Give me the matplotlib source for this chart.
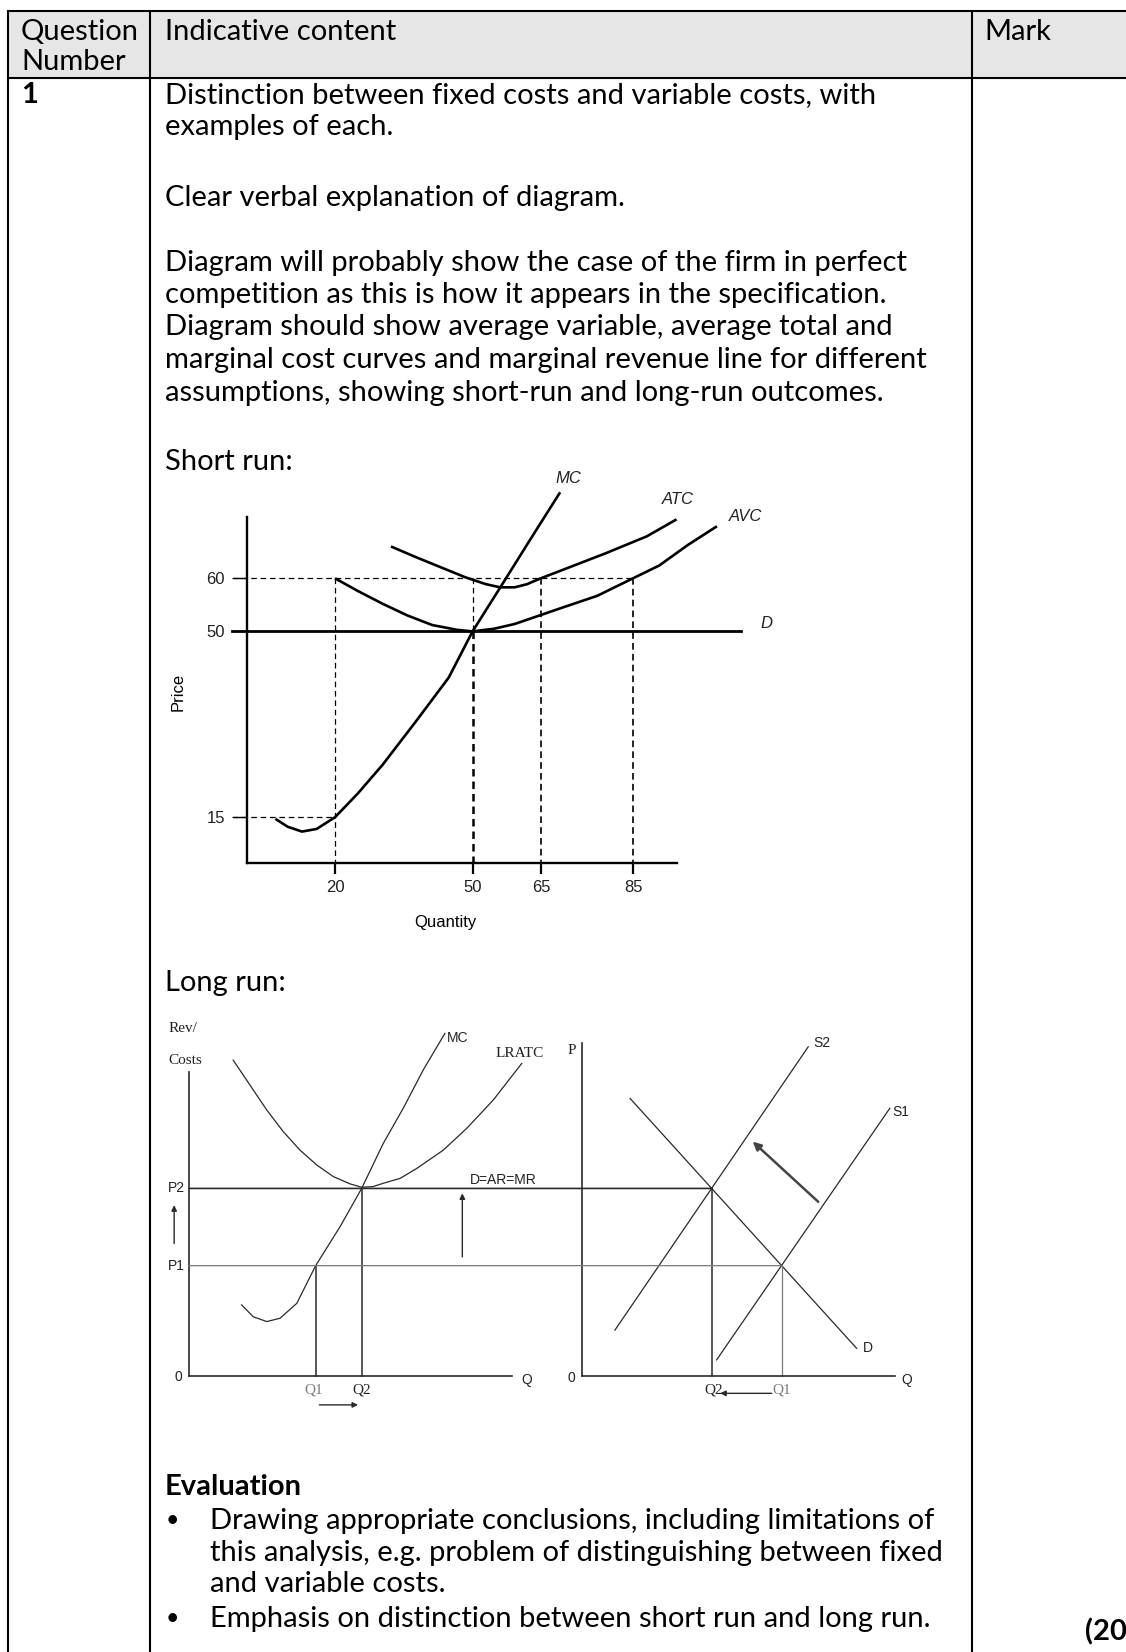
import matplotlib
matplotlib.use("Agg")
import matplotlib.pyplot as plt
from matplotlib.patches import Rectangle, ConnectionPatch

W, H = 1126, 1652

# ---------------- mark scheme text ----------------
header_labels = ["Question", "Number"]
content_header = "Indicative content"
mark_header = "Mark"
question_number = "1"
content_lines = [
    "Distinction between fixed costs and variable costs, with",
    "examples of each.",
    "Clear verbal explanation of diagram.",
    "Diagram will probably show the case of the firm in perfect",
    "competition as this is how it appears in the specification.",
    "Diagram should show average variable, average total and",
    "marginal cost curves and marginal revenue line for different",
    "assumptions, showing short-run and long-run outcomes.",
    "Short run:",
]
long_run_title = "Long run:"
evaluation_title = "Evaluation"
evaluation_lines = [
    "Drawing appropriate conclusions, including limitations of",
    "this analysis, e.g. problem of distinguishing between fixed",
    "and variable costs.",
    "Emphasis on distinction between short run and long run.",
]
evaluation_bullet = [True, False, False, True]
mark_total = "(20)"

# ---------------- short run diagram (price vs quantity) ----------------
sr_mc_q = [7.0, 9.7, 12.8, 16.0, 20.0, 25.0, 30.4, 37.6, 44.8, 50.0, 56.5, 62.8, 69.1]
sr_mc_p = [14.7, 13.2, 12.3, 12.8, 15.0, 19.5, 24.9, 33.0, 41.3, 50.0, 58.9, 67.6, 76.2]
sr_atc_q = [32.2, 37.6, 43.0, 48.4, 52.9, 56.0, 59.2, 61.9, 64.6, 70.0, 79.0, 88.0, 94.5]
sr_atc_p = [66.0, 64.0, 62.1, 60.2, 58.9, 58.3, 58.3, 58.9, 59.9, 61.7, 64.7, 67.9, 71.1]
sr_avc_q = [20.0, 25.0, 30.4, 35.8, 41.2, 46.6, 50.0, 54.7, 59.2, 64.6, 70.0, 77.2, 85.0, 90.7, 97.0, 103.3]
sr_avc_p = [60.0, 57.6, 55.2, 53.0, 51.2, 50.3, 50.0, 50.5, 51.4, 53.0, 54.6, 56.7, 60.0, 62.4, 66.3, 69.8]
sr_demand_price = 50
sr_demand_end = 108.5
sr_price_ticks = [15, 50, 60]
sr_qty_ticks = [20, 50, 65, 85]
sr_axis_q = [0.84, 94.7]
sr_axis_p = [6.3, 71.5]

# ---------------- long run: firm ----------------
lr_atc_q = [1.37, 1.89, 2.41, 2.92, 3.44, 3.96, 4.47, 4.99, 5.35, 5.70, 6.02, 6.54, 7.06, 7.88, 8.61, 9.43, 10.31]
lr_atc_p = [10.38, 9.56, 8.74, 8.03, 7.42, 6.93, 6.55, 6.31, 6.20, 6.22, 6.33, 6.49, 6.82, 7.42, 8.14, 9.07, 10.27]
lr_mc_q = [1.63, 1.99, 2.41, 2.82, 3.34, 3.925, 4.68, 5.35, 6.02, 6.64, 7.26, 7.93]
lr_mc_p = [2.33, 1.94, 1.78, 1.89, 2.38, 3.62, 4.90, 6.16, 7.64, 8.80, 10.06, 11.26]
price_p1 = 3.62
price_p2 = 6.16
firm_q1 = 3.925
firm_q2 = 5.35

# ---------------- long run: industry ----------------
mkt_d_q = [1.50, 8.52]
mkt_d_p = [9.12, 0.90]
mkt_s1_q = [4.18, 9.55]
mkt_s1_p = [0.52, 8.80]
mkt_s2_q = [1.03, 7.02]
mkt_s2_p = [1.50, 10.82]
mkt_q1 = 6.20
mkt_q2 = 4.03

BODY_FONT = "Lato"
SANS = "Liberation Sans"
SERIF = "Liberation Serif"

fig = plt.figure(figsize=(W / 100, H / 100), dpi=100)
renderer = fig.canvas.get_renderer()

# fit body font size to the width of a line in the reference
probe = fig.text(0, 0, content_lines[3], fontsize=20, family=BODY_FONT)
body_size = 20 * 742 / probe.get_window_extent(renderer).width
probe.remove()

# page / table layer in pixel coordinates
bg = fig.add_axes([0, 0, 1, 1])
bg.set_xlim(0, W)
bg.set_ylim(H, 0)
bg.axis("off")
bg.add_patch(Rectangle((7, 10.5), W, 67, facecolor="#e6e6e6", edgecolor="none"))
bg.hlines([10.5, 77.5], 7, W, color="black", lw=1.5)
bg.vlines([7.5, 150, 971.5], 10.5, H, color="black", lw=1.5)

body = dict(fontsize=body_size, family=BODY_FONT, va="center")
bg.text(21, 31.5, header_labels[0], **body)
bg.text(21, 62, header_labels[1], **body)
bg.text(165, 31.5, content_header, **body)
bg.text(984, 31.5, mark_header, **body)
bg.text(21, 95, question_number, weight="bold", **body)

line_y = [95.5, 127.5, 198, 263, 295.5, 327.5, 360, 392.5, 462]
for txt, y in zip(content_lines, line_y):
    bg.text(165, y, txt, **body)
bg.text(165, 983.5, long_run_title, **body)
bg.text(165, 1487, evaluation_title, weight="bold", **body)
for txt, bullet, y in zip(evaluation_lines, evaluation_bullet, [1521, 1552.5, 1584, 1619]):
    if bullet:
        bg.text(172, y, "\u2022", fontsize=body_size * 0.8, family=BODY_FONT, va="center", ha="center")
    bg.text(210, y, txt, **body)
bg.text(1085, 1632, mark_total, weight="bold", **body)


def place_axes(x0_px, sx, y0_px, sy, xlim, ylim):
    # x0_px, y0_px: pixel position of data (0, 0); sx, sy: pixels per unit
    left = x0_px + xlim[0] * sx
    right = x0_px + xlim[1] * sx
    bottom = y0_px - ylim[0] * sy
    top = y0_px - ylim[1] * sy
    ax = fig.add_axes([left / W, 1 - bottom / H, (right - left) / W, (bottom - top) / H])
    ax.set_xlim(*xlim)
    ax.set_ylim(*ylim)
    ax.patch.set_visible(False)
    for s in ["top", "right"]:
        ax.spines[s].set_visible(False)
    return ax


# ================= short run =================
ax = place_axes(243.3, 4.585, 896.9, 5.31, (-20, 122), (-12, 85))
ax.spines["left"].set_position(("data", sr_axis_q[0]))
ax.spines["bottom"].set_position(("data", sr_axis_p[0]))
ax.spines["left"].set_bounds(*sr_axis_p)
ax.spines["bottom"].set_bounds(*sr_axis_q)
for s in ["left", "bottom"]:
    ax.spines[s].set_linewidth(1.7)
ax.set_yticks(sr_price_ticks)
ax.set_xticks(sr_qty_ticks)
ax.tick_params(axis="y", direction="out", length=10, width=1.0, pad=6,
               labelsize=12, labelcolor="#222222")
ax.tick_params(axis="x", direction="out", length=8, width=1.6, pad=4,
               labelsize=12, labelcolor="#222222")
for lab in ax.get_xticklabels() + ax.get_yticklabels():
    lab.set_family(SANS)

dash = dict(color="black", lw=0.9, dashes=(4.5, 3))
ax.plot([-2.5, sr_qty_ticks[3]], [60, 60], **dash)
ax.plot([-2.5, sr_qty_ticks[0]], [15, 15], **dash)
ax.plot([20, 20], [60, sr_axis_p[0]], **dash)
ax.plot([50, 50], [60, 50], **dash)
ax.plot([50, 50], [50, sr_axis_p[0]], color="black", lw=1.8, dashes=(3, 2))
ax.plot([65, 65], [60, sr_axis_p[0]], color="black", lw=1.2, dashes=(4, 2.5))
ax.plot([85, 85], [60, sr_axis_p[0]], color="black", lw=1.2, dashes=(4, 2.5))

ax.plot([-2.5, sr_demand_end], [sr_demand_price, sr_demand_price], color="black", lw=2.0)
curve = dict(color="black", lw=1.9, solid_capstyle="butt")
ax.plot(sr_mc_q, sr_mc_p, **curve)
ax.plot(sr_atc_q, sr_atc_p, **curve)
ax.plot(sr_avc_q, sr_avc_p, **curve)

lab = dict(family=SANS, style="italic", fontsize=12, ha="center", va="center", color="#222222")
ax.text(70.9, 78.8, "MC", **lab)
ax.text(94.7, 74.9, "ATC", **lab)
ax.text(109.6, 71.7, "AVC", **lab)
ax.text(114.1, 51.5, "D", **lab)
ax.text(-14.2, 38.6, "Price", family=SANS, fontsize=12, rotation=90, ha="center", va="center")
ax.text(44.1, -4.9, "Quantity", family=SANS, fontsize=12, ha="center", va="center")


# ================= long run =================
LR_Y0, LR_SX, LR_SY = 1375.7, 32.27, 30.4
axL = place_axes(189, LR_SX, LR_Y0, LR_SY, (-1.6, 11.5), (-1.6, 12))
axR = place_axes(581.7, LR_SX, LR_Y0, LR_SY, (-1.0, 11.0), (-1.6, 12))
dark = "#2a2a2a"
grey = "#7a7a7a"
for a, top in [(axL, 10.0), (axR, 10.93)]:
    a.spines["left"].set_position(("data", 0))
    a.spines["bottom"].set_position(("data", 0))
    a.spines["left"].set_bounds(0, top)
    a.spines["bottom"].set_color(dark)
    a.spines["left"].set_color(dark)
    for s in ["left", "bottom"]:
        a.spines[s].set_linewidth(1.2)
    a.set_xticks([])
    a.set_yticks([])
axL.spines["bottom"].set_bounds(0, 10.0)
axR.spines["bottom"].set_bounds(0, 9.71)

thin = dict(color=dark, lw=0.9)
# firm
axL.plot(lr_atc_q, lr_atc_p, **thin)
axL.plot(lr_mc_q, lr_mc_p, **thin)
axL.plot([firm_q1, firm_q1], [0, price_p1], color=dark, lw=1.1)
axL.plot([firm_q2, firm_q2], [0, price_p2], color=dark, lw=1.1)

# industry
axR.plot(mkt_d_q, mkt_d_p, **thin)
axR.plot(mkt_s1_q, mkt_s1_p, **thin)
axR.plot(mkt_s2_q, mkt_s2_p, **thin)
axR.plot([mkt_q2, mkt_q2], [0, price_p2], color=dark, lw=1.1)
axR.plot([mkt_q1, mkt_q1], [0, price_p1], color=grey, lw=0.9)

# price lines across both panels
fig.add_artist(ConnectionPatch(xyA=(0, price_p2), coordsA=axL.transData,
                               xyB=(mkt_q2, price_p2), coordsB=axR.transData,
                               color=dark, lw=1.2))
fig.add_artist(ConnectionPatch(xyA=(0, price_p1), coordsA=axL.transData,
                               xyB=(mkt_q1, price_p1), coordsB=axR.transData,
                               color=grey, lw=0.9))

sans = dict(family=SANS, fontsize=10, color="#222222", va="center")
serif = dict(family=SERIF, fontsize=11, color="#222222", va="center")
axL.text(-0.64, 11.43, "Rev/", **serif)
axL.text(-0.64, 10.38, "Costs", **serif)
axL.text(-0.12, price_p2, "P2", ha="right", **sans)
axL.text(-0.12, price_p1, "P1", ha="right", **sans)
axL.text(-0.2, -0.05, "0", ha="right", **sans)
axL.text(7.99, 11.1, "MC", ha="left", **sans)
axL.text(10.26, 10.6, "LRATC", ha="center", **serif)
axL.text(9.74, 6.44, "D=AR=MR", ha="center", **sans)
axL.text(10.46, -0.14, "Q", ha="center", **sans)
axL.text(firm_q1 - 0.06, -0.47, "Q1", ha="center", family=SERIF, fontsize=11, color=grey, va="center")
axL.text(firm_q2, -0.47, "Q2", ha="center", **serif)

arrow = dict(arrowstyle="-|>", color=dark, lw=1.0, mutation_scale=8, shrinkA=0, shrinkB=0)
axL.annotate("", xy=(-0.46, 5.61), xytext=(-0.46, 4.35), arrowprops=arrow)
axL.annotate("", xy=(8.47, 6.0), xytext=(8.47, 3.91), arrowprops=arrow)
axL.annotate("", xy=(5.24, -0.96), xytext=(4.04, -0.96), arrowprops=arrow)

axR.text(-0.31, 10.71, "P", ha="center", **serif)
axR.text(-0.2, -0.09, "0", ha="right", **sans)
axR.text(10.07, -0.14, "Q", ha="center", **sans)
axR.text(7.18, 10.93, "S2", ha="left", **sans)
axR.text(9.62, 8.68, "S1", ha="left", **sans)
axR.text(8.88, 0.9, "D", ha="center", **sans)
axR.text(mkt_q2 + 0.05, -0.47, "Q2", ha="center", **serif)
axR.text(mkt_q1, -0.47, "Q1", ha="center", family=SERIF, fontsize=11, color=grey, va="center")
axR.annotate("", xy=(4.29, -0.58), xytext=(5.89, -0.58), arrowprops=arrow)
axR.annotate("", xy=(5.30, 7.70), xytext=(7.33, 5.72),
             arrowprops=dict(arrowstyle="-|>", color="#444444", lw=1.8, mutation_scale=12,
                             shrinkA=0, shrinkB=0))

fig.savefig("out.png", dpi=100)
